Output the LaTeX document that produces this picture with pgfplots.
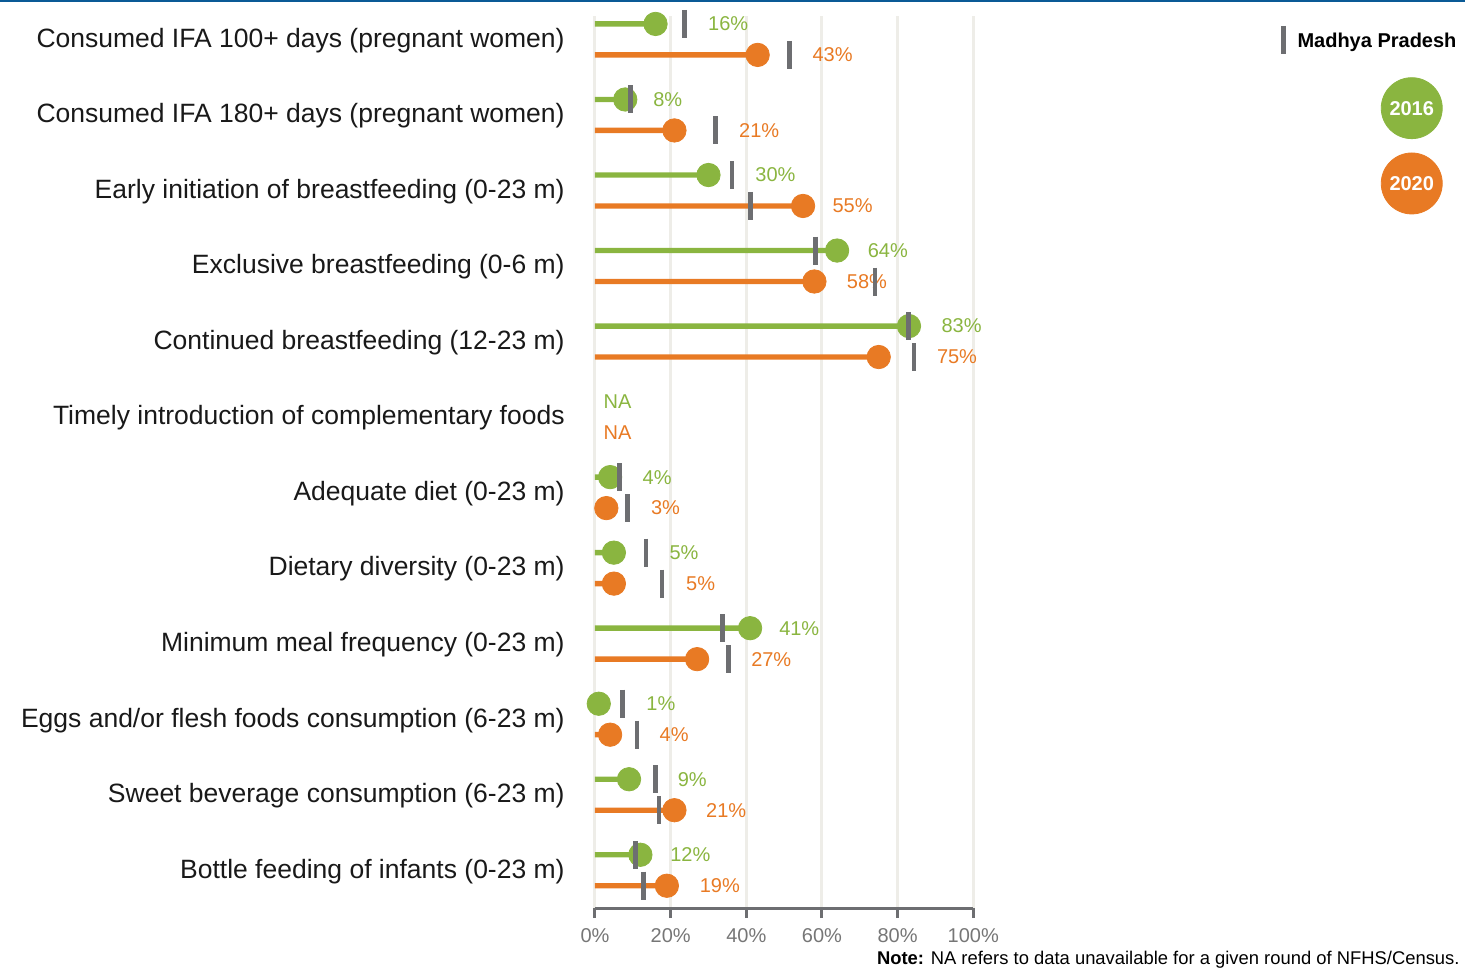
\documentclass[border=0pt]{standalone}
\usepackage{pgfplots}
\pgfplotsset{compat=1.18}
\usepackage{pgfplotstable}
\usepackage{fontspec}
\setmainfont{Liberation Sans}
\definecolor{cgreen}{RGB}{138,181,64}
\definecolor{corange}{RGB}{232,122,36}
\definecolor{cmark}{RGB}{109,110,113}
\definecolor{cgrid}{RGB}{238,237,232}
\definecolor{cblue}{RGB}{10,90,150}
\definecolor{ctick}{RGB}{118,118,118}

% y = row position, v = value, s = state (Madhya Pradesh)
\pgfplotstableread{
y v s
-0.205 16 23.6
0.795 8 9.3
1.795 30 36.2
2.795 64 58.2
3.795 83 82.9
5.795 4 6.4
6.795 5 13.5
7.795 41 33.7
8.795 1 7.3
9.795 9 15.9
10.795 12 10.8
}\greendata
\pgfplotstableread{
y v s
0.205 43 51.4
1.205 21 31.9
2.205 55 41.2
3.205 58 74.0
4.205 75 84.3
6.205 3 8.6
7.205 5 17.7
8.205 27 35.2
9.205 4 11.1
10.205 21 16.9
11.205 19 12.9
}\orangedata

\begin{document}
\begin{tikzpicture}
\path[use as bounding box] (0,0) rectangle (737pt,-485pt);
\fill[cblue] (0,0) rectangle (732.5pt,-1.2pt);
\begin{axis}[
  at={(297.5pt,-454pt)}, anchor=south west,
  scale only axis, width=189.15pt, height=446pt,
  xmin=0, xmax=100, ymin=-0.31, ymax=11.5,
  y dir=reverse, clip=false,
  axis x line*=bottom, axis y line*=left,
  y axis line style={draw=none},
  x axis line style={draw=cmark, line width=1.5pt},
  xtick={0,20,40,60,80,100},
  xticklabels={0\%,20\%,40\%,60\%,80\%,100\%},
  tick align=outside, major tick length=5pt,
  xtick style={draw=cmark, line width=1.5pt},
  xticklabel style={font=\fontsize{10}{12}\selectfont, text=ctick, anchor=center, yshift=-9pt},
  xmajorgrids, major grid style={draw=cgrid, line width=1.5pt},
  ytick={0,1,2,3,4,5,6,7,8,9,10,11},
  ytick style={draw=none},
  yticklabels={Consumed IFA 100+ days (pregnant women),
    Consumed IFA 180+ days (pregnant women),
    Early initiation of breastfeeding (0-23 m),
    Exclusive breastfeeding (0-6 m),
    Continued breastfeeding (12-23 m),
    Timely introduction of complementary foods,
    Adequate diet (0-23 m),
    Dietary diversity (0-23 m),
    Minimum meal frequency (0-23 m),
    Eggs and/or flesh foods consumption (6-23 m),
    Sweet beverage consumption (6-23 m),
    Bottle feeding of infants (0-23 m)},
  yticklabel style={font=\fontsize{13.25}{15}\selectfont, text=black!90, anchor=east, inner sep=0pt, xshift=-10pt, yshift=-0.5pt},
]
% stems
\addplot[xbar, bar width=2.7pt, bar shift=0pt, fill=cgreen, draw=none] table[x=v, y=y] {\greendata};
\addplot[xbar, bar width=2.7pt, bar shift=0pt, fill=corange, draw=none] table[x=v, y=y] {\orangedata};
% dots
\addplot[only marks, mark=*, mark size=5.85pt, color=cgreen] table[x=v, y=y] {\greendata};
\addplot[only marks, mark=*, mark size=5.85pt, color=corange] table[x=v, y=y] {\orangedata};
% value labels
\begingroup
\def\gl#1#2#3{\node[anchor=west, inner sep=0pt, text=cgreen, font=\fontsize{10}{12}\selectfont] at (axis cs:#1,#2) {#3};}
\def\ol#1#2#3{\node[anchor=west, inner sep=0pt, text=corange, font=\fontsize{10}{12}\selectfont] at (axis cs:#1,#2) {#3};}
\gl{29.8}{-0.205}{16\%}  \ol{57.4}{0.205}{43\%}
\gl{15.3}{0.795}{8\%}    \ol{38.0}{1.205}{21\%}
\gl{42.3}{1.795}{30\%}   \ol{62.7}{2.205}{55\%}
\gl{72.0}{2.795}{64\%}   \ol{66.5}{3.205}{58\%}
\gl{91.5}{3.795}{83\%}   \ol{90.3}{4.205}{75\%}
\gl{2.2}{4.795}{NA}      \ol{2.2}{5.205}{NA}
\gl{12.5}{5.795}{4\%}    \ol{14.7}{6.205}{3\%}
\gl{19.6}{6.795}{5\%}    \ol{24.0}{7.205}{5\%}
\gl{48.6}{7.795}{41\%}   \ol{41.2}{8.205}{27\%}
\gl{13.5}{8.795}{1\%}    \ol{17.0}{9.205}{4\%}
\gl{21.8}{9.795}{9\%}    \ol{29.3}{10.205}{21\%}
\gl{19.8}{10.795}{12\%}  \ol{27.6}{11.205}{19\%}
\endgroup
% state markers
\addplot[only marks, mark=|, mark size=7pt, color=cmark, mark options={line width=2.4pt}] table[x=s, y=y] {\greendata};
\addplot[only marks, mark=|, mark size=7pt, color=cmark, mark options={line width=2.4pt}] table[x=s, y=y] {\orangedata};
% legend
\addplot[only marks, mark=|, mark size=7pt, color=cmark, mark options={line width=2.4pt}] coordinates {(181.9,0.007)};
\node[anchor=west, inner sep=0pt, font=\fontsize{10}{12}\selectfont\bfseries, text=black] at (axis cs:185.6,0.045) {Madhya Pradesh};
\addplot[only marks, mark=*, mark size=15.25pt, color=cgreen,
  nodes near coords, point meta=explicit symbolic,
  every node near coord/.style={anchor=center, text=white, font=\fontsize{10}{12}\selectfont\bfseries}]
  coordinates {(215.9,0.910) [2016]};
\addplot[only marks, mark=*, mark size=15.25pt, color=corange,
  nodes near coords, point meta=explicit symbolic,
  every node near coord/.style={anchor=center, text=white, font=\fontsize{10}{12}\selectfont\bfseries}]
  coordinates {(215.9,1.907) [2020]};
\end{axis}
\node[anchor=east, inner sep=0pt, font=\fontsize{9.2}{11}\selectfont] at (730pt,-480pt) {\textbf{Note:} NA refers to data unavailable for a given round of NFHS/Census.};
\end{tikzpicture}
\end{document}
